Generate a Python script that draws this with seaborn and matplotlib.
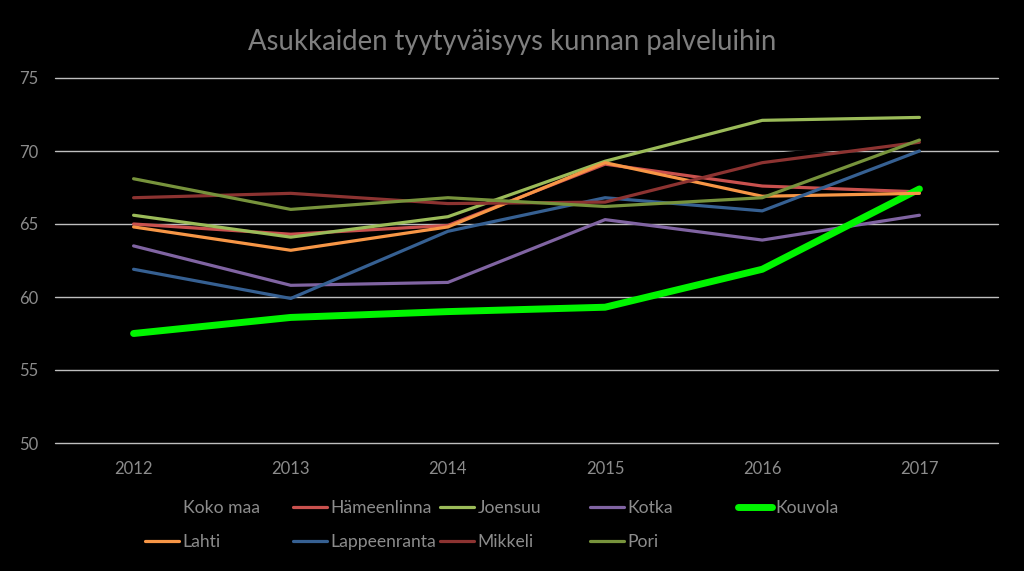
import matplotlib
matplotlib.use("Agg")
import matplotlib.pyplot as plt
import seaborn as sns
import pandas as pd
from matplotlib.lines import Line2D

years = [2012, 2013, 2014, 2015, 2016, 2017]
koko_maa = [67.5, 67.2, 67.0, 68.0, 69.7, 70.6]
hameenlinna = [65.0, 64.3, 64.9, 69.1, 67.6, 67.2]
joensuu = [65.6, 64.1, 65.5, 69.3, 72.1, 72.3]
kotka = [63.5, 60.8, 61.0, 65.3, 63.9, 65.6]
kouvola = [57.5, 58.6, 59.0, 59.3, 61.9, 67.4]
lahti = [64.8, 63.2, 64.8, 69.2, 66.9, 67.1]
lappeenranta = [61.9, 59.9, 64.5, 66.8, 65.9, 70.0]
mikkeli = [66.8, 67.1, 66.4, 66.5, 69.2, 70.6]
pori = [68.1, 66.0, 66.8, 66.2, 66.8, 70.75]

names = ["Koko maa", "Hämeenlinna", "Joensuu", "Kotka", "Kouvola",
         "Lahti", "Lappeenranta", "Mikkeli", "Pori"]
series = [koko_maa, hameenlinna, joensuu, kotka, kouvola,
          lahti, lappeenranta, mikkeli, pori]
title = "Asukkaiden tyytyväisyys kunnan palveluihin"
yticks = [50, 55, 60, 65, 70, 75]

colors = {
    "Koko maa": "#000000",
    "Hämeenlinna": "#C9514E",
    "Joensuu": "#9BBB59",
    "Kotka": "#8064A2",
    "Kouvola": "#00F500",
    "Lahti": "#F79646",
    "Lappeenranta": "#366092",
    "Mikkeli": "#8C3331",
    "Pori": "#77933C",
}
widths = {n: 2.3 for n in names}
widths["Kouvola"] = 5.0

rows = []
for n, vals in zip(names, series):
    for y, v in zip(years, vals):
        rows.append({"Vuosi": y, "Arvo": v, "Kunta": n})
df = pd.DataFrame(rows)

sns.set_theme(style="dark")
plt.rcParams["font.family"] = ["Lato", "DejaVu Sans"]
txt = "#8C8C8C"

fig = plt.figure(figsize=(10.24, 5.71), dpi=100, facecolor="black")
ax = fig.add_axes([55 / 1024, 1 - 443 / 571, (998 - 55) / 1024, (443 - 78) / 571])
ax.set_facecolor("black")

sns.lineplot(data=df, x="Vuosi", y="Arvo", hue="Kunta", size="Kunta",
             palette=colors, sizes=widths, hue_order=names, size_order=names,
             legend=False, ax=ax, solid_capstyle="round", solid_joinstyle="round",
             zorder=3)

ax.set_xlim(2011.5, 2017.5)
ax.set_ylim(50, 75)
ax.set_yticks(yticks)
ax.set_xticks(years)
ax.set_xticklabels([str(y) for y in years])
ax.grid(axis="y", color="#BFBFBF", linewidth=1.0, zorder=1)
ax.grid(axis="x", visible=False)
ax.set_axisbelow(True)
for gl in ax.get_ygridlines():
    gl.set_clip_on(False)
for s in ax.spines.values():
    s.set_visible(False)
ax.tick_params(axis="both", length=0, colors=txt, labelsize=12)
ax.tick_params(axis="y", pad=12)
ax.tick_params(axis="x", pad=13)
ax.set_xlabel("")
ax.set_ylabel("")

fig.text(0.5, 1 - 42 / 571, title, ha="center", va="center",
         color="#7F7F7F", fontsize=19.8)

# Legend: 5 columns x 2 rows, row-major order
col_x = [145, 293, 440, 590, 738]
for c in range(5):
    entries = [names[c]]
    if c + 5 < len(names):
        entries.append(names[c + 5])
    handles = [Line2D([0], [0], color=colors[n], linewidth=widths[n],
                      solid_capstyle="round") for n in entries]
    fig.legend(handles, entries, loc="upper left",
               bbox_to_anchor=(col_x[c] / 1024, 1 - 500 / 571),
               frameon=False, fontsize=12.6, labelcolor=txt,
               handlelength=1.95, handletextpad=0.2, borderpad=0,
               borderaxespad=0, labelspacing=1.03)

fig.savefig("out.png", dpi=100, facecolor="black")
